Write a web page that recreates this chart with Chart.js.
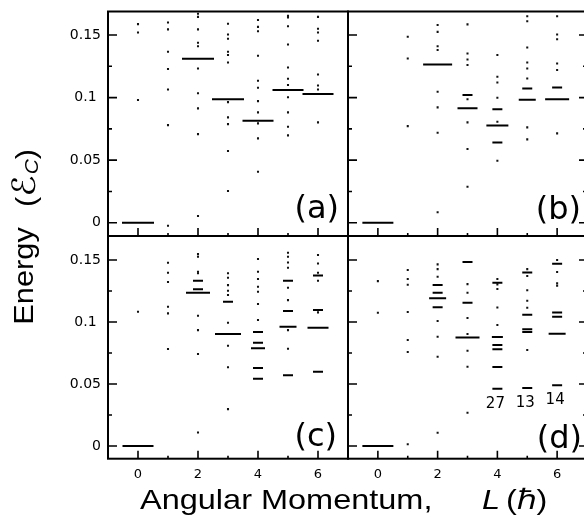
<!DOCTYPE html>
<html lang="en">
<head>
<meta charset="utf-8">
<title>Energy vs angular momentum</title>
<script src="https://cdn.jsdelivr.net/npm/chart.js@4.4.1/dist/chart.umd.min.js"></script>
<style>
  html, body { margin: 0; padding: 0; background: #fff; }
  #figure { position: relative; width: 584px; height: 518px; overflow: hidden; background: #fff; }
  #figure canvas { position: absolute; left: 0; top: 0; }
  .axis-title { position: absolute; color: #000; font-family: "Liberation Sans", Arial, sans-serif; font-size: 28px; line-height: 28px; white-space: nowrap; }
  .y-part { transform: translate(-50%, -50%) rotate(-90deg) scaleX(1.1); }
  #y-title { left: 24px; top: 276px; }
  #y-unit { left: 25px; top: 178px; }
  #y-unit .script { font-family: "DejaVu Sans", sans-serif; font-size: 32px; }
  #y-unit sub { font-size: 19px; font-style: italic; vertical-align: -3px; line-height: 0; margin-left: 1px; }
  .x-part { transform-origin: 0 50%; transform: scaleX(1.16); }
  #x-title { left: 140px; top: 486px; }
  #x-var { left: 482px; top: 486px; font-style: italic; }
  #x-unit { left: 506px; top: 486px; }
</style>
</head>
<body>
<div id="figure">
  <canvas id="panel-a" width="600" height="518"></canvas>
  <canvas id="panel-b" width="600" height="518"></canvas>
  <canvas id="panel-c" width="600" height="518"></canvas>
  <canvas id="panel-d" width="600" height="518"></canvas>
  <div id="y-title" class="axis-title y-part">Energy</div>
  <div id="y-unit" class="axis-title y-part">(<span class="script">ℰ</span><sub>C</sub>)</div>
  <div id="x-title" class="axis-title x-part">Angular Momentum,</div>
  <div id="x-var" class="axis-title x-part">L</div>
  <div id="x-unit" class="axis-title x-part">(ℏ)</div>
</div>
<script>
const angularMomenta = [0, 1, 2, 3, 4, 5, 6];
const xMajorTicks = [0, 2, 4, 6];
const xMinorTicks = [1, 3, 5];
const xTickLabels = ["0", "2", "4", "6"];
const yMajorTicks = [0, 0.05, 0.1, 0.15];
const yMinorTicks = [0.025, 0.075, 0.125];
const yTickLabels = ["0", "0.05", "0.1 ", "0.15"];
const panelNames = ["(a)", "(b)", "(c)", "(d)"];

// lowest level at each L (null where there is none)
const lowestA = [0, null, 0.131, 0.0986, 0.0815, 0.106, 0.1028];
const lowestB = [0, null, 0.1265, 0.0914, 0.0778, 0.0982, 0.0986];
const lowestC = [0, null, 0.1237, 0.0903, 0.0788, 0.0962, 0.0954];
const lowestD = [0, null, 0.1191, 0.0876, 0.0879, 0.0941, 0.0906];

// short dashes, one list per L
const dashesA = [[], [], [], [], [], [], []];
const dashesB = [[], [], [], [0.102], [0.0906, 0.0642], [0.1073], [0.1081]];
const dashesC = [[], [], [0.1333, 0.1264], [0.1164], [0.0919, 0.0833, 0.0629, 0.0543], [0.1333, 0.1089, 0.057], [0.1376, 0.1097, 0.06]];
const dashesD = [[], [], [0.1298, 0.1237, 0.1119], [0.1484, 0.1156], [0.1317, 0.0815, 0.078, 0.0637, 0.0462], [0.14, 0.1059, 0.0919, 0.0468], [0.147, 0.1078, 0.1043, 0.049]];

// single excited states, one list per L
const dotsA = [
  [0.1587, 0.152, 0.098],
  [0.16, 0.1545, 0.1366, 0.1228, 0.1065, 0.078, -0.0024],
  [0.167, 0.1645, 0.1545, 0.1438, 0.141, 0.1233, 0.1034, 0.0914, 0.0708, 0.0054],
  [0.159, 0.1505, 0.147, 0.1366, 0.134, 0.128, 0.0964, 0.0842, 0.0788, 0.0573, 0.0253],
  [0.162, 0.1565, 0.153, 0.1334, 0.1134, 0.1078, 0.0972, 0.0882, 0.0794, 0.0674, 0.0407],
  [0.1653, 0.164, 0.157, 0.1425, 0.124, 0.115, 0.11, 0.1002, 0.0882, 0.0767, 0.0698],
  [0.1645, 0.155, 0.152, 0.1454, 0.1185, 0.1097, 0.1065, 0.0802],
];
const dotsB = [
  [],
  [0.1486, 0.1313, 0.0772],
  [0.158, 0.1525, 0.1411, 0.138, 0.1046, 0.0922, 0.0719, 0.0083],
  [0.1585, 0.1353, 0.1305, 0.126, 0.0986, 0.0802, 0.0589, 0.0288],
  [0.134, 0.1166, 0.1121, 0.0998, 0.0807, 0.0495],
  [0.165, 0.161, 0.14, 0.128, 0.1233, 0.1153, 0.0762, 0.0666],
  [0.165, 0.1505, 0.1467, 0.1273, 0.122, 0.0714],
];
const dotsC = [
  [0.1083],
  [0.1478, 0.1398, 0.1323, 0.1124, 0.107, 0.0782],
  [0.1548, 0.1527, 0.1406, 0.1393, 0.1051, 0.0935, 0.0742, 0.011],
  [0.1393, 0.1357, 0.1298, 0.1252, 0.1218, 0.0994, 0.0809, 0.0635, 0.0298],
  [0.1508, 0.1406, 0.1347, 0.1285, 0.1245, 0.1145, 0.1016],
  [0.1559, 0.1527, 0.1481, 0.1438, 0.1277, 0.1177, 0.0935, 0.0785],
  [0.154, 0.1473, 0.1398, 0.1333, 0.1078],
];
const dotsD = [
  [0.133, 0.1075],
  [0.1419, 0.1347, 0.1301, 0.1081, 0.0855, 0.0758, 0.0014],
  [0.1465, 0.1427, 0.1366, 0.1008, 0.0882, 0.072, 0.0107],
  [0.1306, 0.1237, 0.1032, 0.0903, 0.0769, 0.064, 0.0269],
  [0.1347, 0.1304, 0.1266, 0.1118, 0.0976],
  [0.1427, 0.1371, 0.1256, 0.1172, 0.1115, 0.0774],
  [0.15, 0.1403, 0.1312, 0.1293],
];

// numbers printed under the lowest dashes of (d)
const noteTextD = ["27", "13", "14"];
const noteLD = [4, 5, 6];
const noteED = [0.0462, 0.0468, 0.049];

// drawn width (px) of the lowest-level bar at each L
const barWidthA = [32, 0, 32, 32, 31, 31, 31];
const barWidthB = [31, 0, 29, 20, 22, 17, 24];
const barWidthC = [31, 0, 24, 26, 14, 17, 21];
const barWidthD = [31, 0, 17, 24, 11, 10, 17];

const CANVAS_W = 600;
const CANVAS_H = 518;
const Y_AXIS_W = 60;
const X_AXIS_H = 30;

function levelPoints(lists) {
  return lists.flatMap((list, i) => list.map((e) => ({ x: angularMomenta[i], y: e })));
}

function lowestPoints(values) {
  return values
    .map((e, i) => (e === null ? null : { x: angularMomenta[i], y: e }))
    .filter(Boolean);
}

const framePlugin = {
  id: "frame",
  afterDatasetsDraw(chart, args, opts) {
    const { ctx, chartArea: a } = chart;
    const x = chart.scales.x;
    const y = chart.scales.y;
    ctx.save();
    ctx.strokeStyle = "#000";
    ctx.lineWidth = 2;
    ctx.strokeRect(a.left, a.top, a.right - a.left, a.bottom - a.top);

    ctx.lineWidth = 1.6;
    ctx.beginPath();
    yMajorTicks.forEach((v) => {
      const py = y.getPixelForValue(v);
      ctx.moveTo(a.left, py); ctx.lineTo(a.left + 9, py);
      if (opts.rightTicks) { ctx.moveTo(a.right, py); ctx.lineTo(a.right - 8, py); }
    });
    yMinorTicks.forEach((v) => {
      const py = y.getPixelForValue(v);
      ctx.moveTo(a.left, py); ctx.lineTo(a.left + 4, py);
      if (opts.rightTicks) { ctx.moveTo(a.right, py); ctx.lineTo(a.right - 4, py); }
    });
    xMajorTicks.forEach((v) => {
      const px = x.getPixelForValue(v);
      ctx.moveTo(px, a.bottom); ctx.lineTo(px, a.bottom - 8);
    });
    xMinorTicks.forEach((v) => {
      const px = x.getPixelForValue(v);
      ctx.moveTo(px, a.bottom); ctx.lineTo(px, a.bottom - 3);
    });
    ctx.stroke();

    ctx.fillStyle = "#000";
    ctx.font = '32px "DejaVu Sans"';
    ctx.textAlign = "right";
    ctx.textBaseline = "alphabetic";
    ctx.fillText(opts.label, a.right - opts.labelDx, a.bottom - opts.labelDy);

    if (opts.notes) {
      ctx.font = '15px "DejaVu Sans"';
      ctx.textAlign = "center";
      ctx.textBaseline = "middle";
      opts.notes.text.forEach((t, i) => {
        const px = x.getPixelForValue(opts.notes.L[i]);
        const py = y.getPixelForValue(opts.notes.E[i]);
        ctx.fillText(t, px - 2, py + 15);
      });
    }
    ctx.restore();
  },
};

function makePanel(cfg) {
  const area = cfg.area;
  const yW = cfg.showY ? Y_AXIS_W : 0;
  const xH = cfg.showX ? X_AXIS_H : 0;
  return new Chart(document.getElementById(cfg.id), {
    type: "scatter",
    data: {
      datasets: [
        {
          label: "lowest",
          data: lowestPoints(cfg.lowest),
          pointStyle: "line",
          pointRadius: (c) => (c.raw ? cfg.barWidth[c.raw.x] / 2 : 0),
          pointBorderWidth: 2,
          pointBorderColor: "#000",
        },
        {
          label: "dashes",
          data: levelPoints(cfg.dashes),
          pointStyle: "line",
          pointRadius: 5,
          pointBorderWidth: 2,
          pointBorderColor: "#000",
        },
        {
          label: "states",
          data: levelPoints(cfg.dots),
          pointStyle: "rect",
          pointRadius: 1.45,
          pointBorderWidth: 0,
          pointBackgroundColor: "#111",
        },
      ],
    },
    options: {
      responsive: false,
      animation: false,
      events: [],
      layout: {
        autoPadding: false,
        padding: { left: area.left - yW, top: area.top, right: CANVAS_W - area.right, bottom: CANVAS_H - area.bottom - xH },
      },
      scales: {
        x: {
          type: "linear",
          min: -1,
          max: 7,
          display: cfg.showX,
          grid: { display: false, drawTicks: false },
          border: { display: false },
          afterBuildTicks: (s) => { s.ticks = xMajorTicks.map((v) => ({ value: v })); },
          afterFit: (s) => { s.height = xH; s.paddingLeft = 0; s.paddingRight = 0; },
          ticks: {
            color: "#000",
            font: { family: "DejaVu Sans", size: 13 },
            padding: 8,
            maxRotation: 0,
            autoSkip: false,
            callback: (v, i) => xTickLabels[i],
          },
        },
        y: {
          type: "linear",
          min: cfg.yMin,
          max: cfg.yMax,
          display: cfg.showY,
          grid: { display: false, drawTicks: false },
          border: { display: false },
          afterBuildTicks: (s) => { s.ticks = yMajorTicks.map((v) => ({ value: v })); },
          afterFit: (s) => { s.width = yW; s.paddingTop = 0; s.paddingBottom = 0; },
          ticks: {
            color: "#000",
            font: { family: "DejaVu Sans", size: 14 },
            padding: 7,
            autoSkip: false,
            callback: (v, i) => yTickLabels[i],
          },
        },
      },
      plugins: {
        legend: { display: false },
        tooltip: { enabled: false },
        frame: {
          rightTicks: cfg.rightTicks,
          label: cfg.label,
          labelDx: cfg.labelDx,
          labelDy: cfg.labelDy,
          notes: cfg.notes,
        },
      },
    },
    plugins: [framePlugin],
  });
}

makePanel({
  id: "panel-a", area: { left: 108, top: 11.5, right: 348, bottom: 236 },
  yMin: -0.0106, yMax: 0.1688,
  lowest: lowestA, barWidth: barWidthA, dashes: dashesA, dots: dotsA,
  showX: false, showY: true, rightTicks: false,
  label: panelNames[0], labelDx: 9, labelDy: 18,
});
makePanel({
  id: "panel-b", area: { left: 348, top: 11.5, right: 587, bottom: 236 },
  yMin: -0.0106, yMax: 0.1688,
  lowest: lowestB, barWidth: barWidthB, dashes: dashesB, dots: dotsB,
  showX: false, showY: false, rightTicks: true,
  label: panelNames[1], labelDx: 6, labelDy: 17,
});
makePanel({
  id: "panel-c", area: { left: 108, top: 236, right: 348, bottom: 458.7 },
  yMin: -0.0102, yMax: 0.1694,
  lowest: lowestC, barWidth: barWidthC, dashes: dashesC, dots: dotsC,
  showX: true, showY: true, rightTicks: false,
  label: panelNames[2], labelDx: 11, labelDy: 13,
});
makePanel({
  id: "panel-d", area: { left: 348, top: 236, right: 587, bottom: 458.7 },
  yMin: -0.0102, yMax: 0.1694,
  lowest: lowestD, barWidth: barWidthD, dashes: dashesD, dots: dotsD,
  showX: true, showY: false, rightTicks: true,
  label: panelNames[3], labelDx: 5, labelDy: 11,
  notes: { text: noteTextD, L: noteLD, E: noteED },
});
</script>
</body>
</html>
